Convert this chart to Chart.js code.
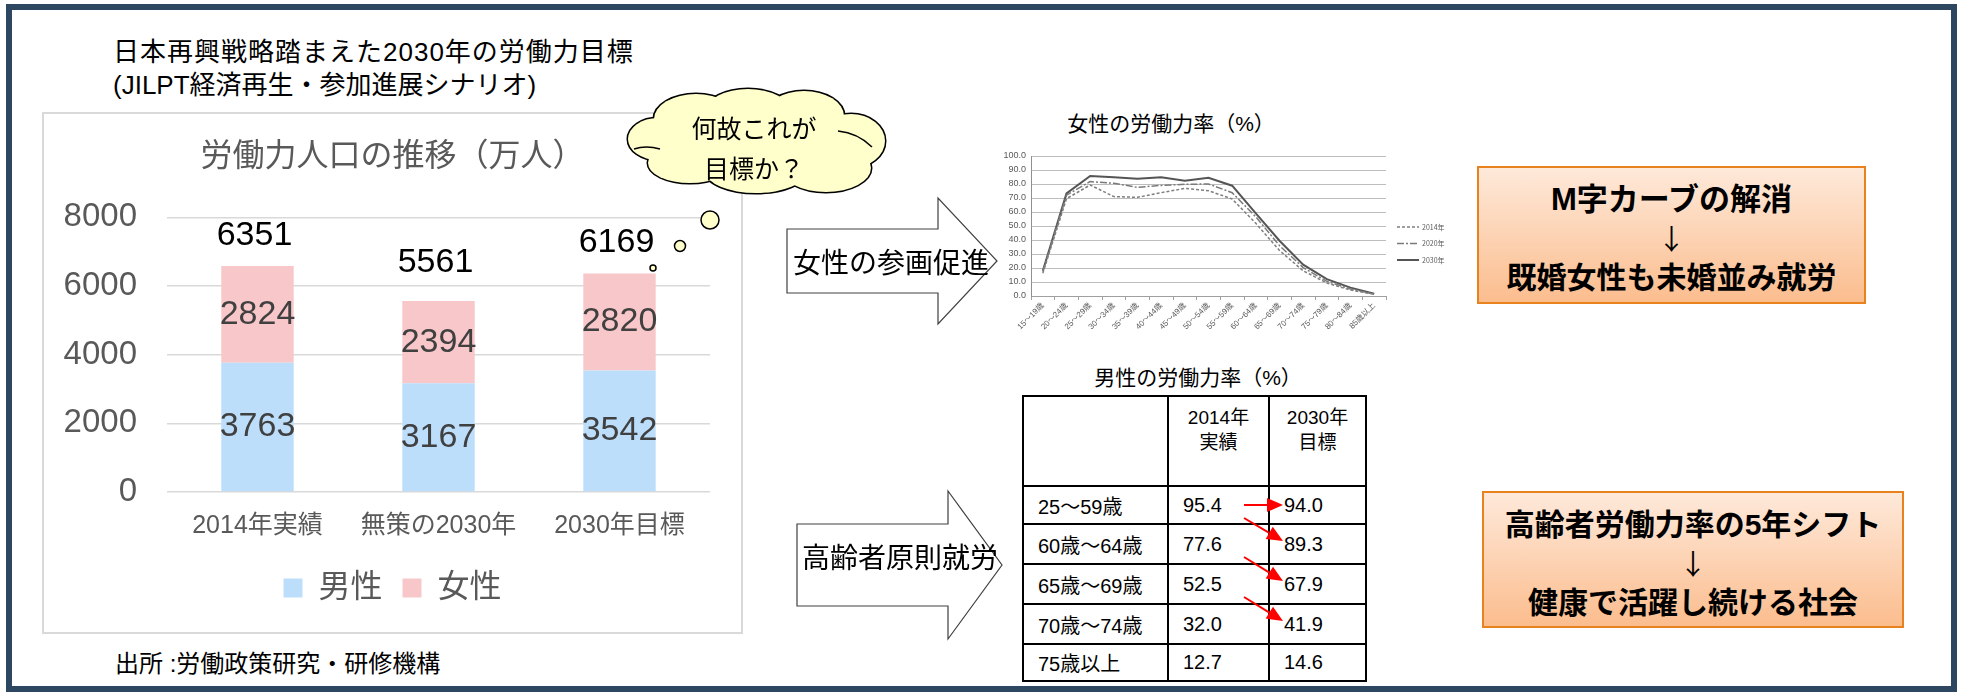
<!DOCTYPE html>
<html lang="ja">
<head>
<meta charset="utf-8">
<title>日本再興戦略踏まえた2030年の労働力目標</title>
<script src="https://cdn.jsdelivr.net/npm/chart.js@4.4.1/dist/chart.umd.min.js"></script>
<style>
  html, body { margin: 0; padding: 0; background: #fff; }
  body { width: 1964px; height: 694px; position: relative; overflow: hidden;
         font-family: "Liberation Sans", "Noto Sans CJK JP", sans-serif; color: #000; }
  .abs { position: absolute; }
  #frame { left: 6px; top: 4px; width: 1951px; height: 688px; box-sizing: border-box; border: 6px solid #2d4761; }
  .head { left: 113px; font-size: 26px; line-height: 30px; white-space: nowrap; }
  #chartBox { left: 42px; top: 112px; width: 701px; height: 522px; box-sizing: border-box; border: 2px solid #d9d9d9; }
  #barChart { left: 43px; top: 113px; }
  #lineChart { left: 990px; top: 105px; }
  .ctitle { font-size: 21px; line-height: 24px; white-space: nowrap; transform: translateX(-50%); }
  #maleTable { left: 1022px; top: 395px; border-collapse: collapse; font-size: 20px; }
  #maleTable td { border: 2.5px solid #000; padding: 0 0 0 14px; vertical-align: middle; white-space: nowrap; }
  #maleTable thead td { text-align: center; vertical-align: top; padding: 8px 0 0 0; font-size: 19px; line-height: 25px; }
  .obox { box-sizing: border-box; border: 2.5px solid #e8821e; background: linear-gradient(#fee9da, #fbbd8e);
          text-align: center; font-weight: bold; font-size: 30px; line-height: 38px; padding-top: 13px; white-space: nowrap; }
  .obox .down { font-family: "Noto Sans CJK JP", sans-serif; font-weight: normal; font-size: 28px; }
  #deco { left: 0; top: 0; pointer-events: none; }
</style>
</head>
<body>
<div id="frame" class="abs"></div>

<div class="abs head" style="top:37px; letter-spacing:1px;">日本再興戦略踏まえた2030年の労働力目標</div>
<div class="abs head" style="top:70px;">(JILPT経済再生・参加進展シナリオ)</div>

<div id="chartBox" class="abs"></div>
<canvas id="barChart" class="abs" width="699" height="520"></canvas>

<div class="abs" style="left:115px; top:648px; font-size:24px; line-height:32px;">出所 :労働政策研究・研修機構</div>

<div class="abs ctitle" style="left:1171px; top:112px;">女性の労働力率（%）</div>
<canvas id="lineChart" class="abs" width="470" height="240"></canvas>

<div class="abs ctitle" style="left:1198px; top:366px;">男性の労働力率（%）</div>
<table id="maleTable" class="abs">
  <colgroup><col style="width:145px"><col style="width:101px"><col style="width:97px"></colgroup>
  <thead><tr style="height:90px"><td></td><td>2014年<br>実績</td><td>2030年<br>目標</td></tr></thead>
  <tbody></tbody>
</table>

<div class="abs obox" style="left:1477px; top:166px; width:389px; height:138px;">
  <span style="font-size:31px">M字カーブの解消</span><br><span class="down">↓</span><br>既婚女性も未婚並み就労
</div>
<div class="abs obox" style="left:1482px; top:491px; width:422px; height:137px;">
  高齢者労働力率の5年シフト<br><span class="down">↓</span><br>健康で活躍し続ける社会
</div>

<svg id="deco" class="abs" width="1964" height="694" xmlns="http://www.w3.org/2000/svg">
  <!-- thought cloud -->
  <g transform="translate(626,89)">
    <g fill="#ffffcc" stroke="#000" stroke-width="3">
      <ellipse cx="32" cy="50" rx="30" ry="21"/>
      <ellipse cx="70" cy="30" rx="42" ry="25"/>
      <ellipse cx="122" cy="22" rx="42" ry="22"/>
      <ellipse cx="178" cy="27" rx="40" ry="25"/>
      <ellipse cx="225" cy="52" rx="34" ry="27"/>
      <ellipse cx="200" cy="79" rx="45" ry="24"/>
      <ellipse cx="130" cy="83" rx="50" ry="21"/>
      <ellipse cx="64" cy="74" rx="42" ry="20"/>
    </g>
    <g fill="#ffffcc">
      <ellipse cx="32" cy="50" rx="30" ry="21"/>
      <ellipse cx="70" cy="30" rx="42" ry="25"/>
      <ellipse cx="122" cy="22" rx="42" ry="22"/>
      <ellipse cx="178" cy="27" rx="40" ry="25"/>
      <ellipse cx="225" cy="52" rx="34" ry="27"/>
      <ellipse cx="200" cy="79" rx="45" ry="24"/>
      <ellipse cx="130" cy="83" rx="50" ry="21"/>
      <ellipse cx="64" cy="74" rx="42" ry="20"/>
      <ellipse cx="128" cy="53" rx="100" ry="37"/>
    </g>
    <g fill="none" stroke="#000" stroke-width="1.5">
      <path d="M8 60 Q20 56 34 60"/>
      <path d="M212 42 Q232 44 246 58"/>
    </g>
    <g font-family="Noto Sans CJK JP, sans-serif" font-size="25" text-anchor="middle" fill="#000">
      <text x="128" y="49">何故これが</text>
      <text x="128" y="89">目標か？</text>
    </g>
  </g>
  <g fill="#ffffcc" stroke="#000" stroke-width="1.5">
    <circle cx="710" cy="220" r="9"/>
    <circle cx="680" cy="246" r="5.5"/>
    <circle cx="653" cy="268" r="3"/>
  </g>

  <!-- block arrows -->
  <g fill="#fff" stroke="#404040" stroke-width="1.2">
    <polygon points="787,229 938,229 938,198 997,261 938,324 938,293 787,293"/>
    <polygon points="797,524 948,524 948,491 1002,565 948,639 948,606 797,606"/>
  </g>
  <g font-family="Noto Sans CJK JP, sans-serif" font-size="28" fill="#000">
    <text x="793" y="273">女性の参画促進</text>
    <text x="802" y="568">高齢者原則就労</text>
  </g>
  <g id="shiftArrows"></g>
</svg>

<script>
// 労働力人口の推移（万人）
const categories = ['2014年実績', '無策の2030年', '2030年目標'];
const maleWorkers = [3763, 3167, 3542];
const femaleWorkers = [2824, 2394, 2820];
const totals = [6351, 5561, 6169];

// 女性の労働力率（%）
const ageGroups = ['15～19歳', '20～24歳', '25～29歳', '30～34歳', '35～39歳', '40～44歳', '45～49歳',
  '50～54歳', '55～59歳', '60～64歳', '65～69歳', '70～74歳', '75～79歳', '80～84歳', '85歳以上'];
const female2014 = [16.3, 69.5, 79.3, 71.0, 70.5, 73.8, 76.9, 75.2, 69.3, 51.9, 32.5, 18.0, 9.3, 4.2, 1.2];
const female2020 = [17.5, 72.0, 81.7, 80.5, 77.6, 79.0, 79.8, 80.0, 73.8, 56.5, 36.0, 20.3, 10.5, 5.0, 1.4];
const female2030 = [18.0, 73.3, 85.7, 84.8, 83.8, 84.8, 82.4, 84.5, 78.8, 59.0, 39.5, 22.4, 12.0, 6.0, 1.6];

// 男性の労働力率（%）
const maleAgeGroups = ['25～59歳', '60歳～64歳', '65歳～69歳', '70歳～74歳', '75歳以上'];
const male2014 = ['95.4', '77.6', '52.5', '32.0', '12.7'];
const male2030 = ['94.0', '89.3', '67.9', '41.9', '14.6'];

Chart.defaults.font.family = '"Liberation Sans", "Noto Sans CJK JP", sans-serif';
Chart.defaults.color = '#595959';

const barLabels = {
  id: 'barLabels',
  afterDatasetsDraw(chart) {
    const ctx = chart.ctx;
    ctx.save();
    ctx.textAlign = 'center';
    ctx.textBaseline = 'middle';
    ctx.font = '34px "Liberation Sans", "Noto Sans CJK JP", sans-serif';
    ctx.fillStyle = '#404040';
    chart.data.datasets.forEach((ds, i) => {
      chart.getDatasetMeta(i).data.forEach((bar, j) => {
        ctx.fillText(ds.data[j], bar.x, (bar.y + bar.base) / 2);
      });
    });
    ctx.fillStyle = '#000';
    const y = chart.scales.y;
    chart.getDatasetMeta(0).data.forEach((bar, j) => {
      ctx.fillText(totals[j], bar.x - 3, y.getPixelForValue(totals[j]) - 38);
    });
    ctx.restore();
  }
};

new Chart(document.getElementById('barChart'), {
  type: 'bar',
  data: {
    labels: categories,
    datasets: [
      { label: '男性', data: maleWorkers, backgroundColor: '#bcdefb', barPercentage: 0.8, categoryPercentage: 0.5 },
      { label: '女性', data: femaleWorkers, backgroundColor: '#f8c7c9', barPercentage: 0.8, categoryPercentage: 0.5 }
    ]
  },
  options: {
    responsive: false,
    animation: false,
    layout: { padding: { bottom: 19 } },
    plugins: {
      title: { display: true, text: '労働力人口の推移（万人）', color: '#595959',
               font: { size: 32, weight: 'normal' }, padding: { top: 25, bottom: 41 } },
      legend: { position: 'bottom',
                labels: { color: '#595959', font: { size: 32 }, boxWidth: 19, boxHeight: 19, padding: 20 } },
      tooltip: { enabled: false }
    },
    scales: {
      x: { stacked: true, grid: { display: false }, border: { display: false },
           ticks: { font: { size: 25 }, color: '#595959', padding: 11 },
           afterFit(s) { s.height = 60; } },
      y: { stacked: true, min: 0, max: 8000,
           ticks: { stepSize: 2000, font: { size: 33 }, color: '#595959', padding: 30, callback: v => String(v) },
           grid: { color: '#d9d9d9', lineWidth: 1.5, drawTicks: false }, border: { display: false },
           afterFit(s) { s.width = 124; } },
      yRight: { type: 'linear', position: 'right', grid: { display: false }, border: { display: false },
                ticks: { display: false }, afterFit(s) { s.width = 32; } }
    }
  },
  plugins: [barLabels]
});

const lineLegend = {
  id: 'lineLegend',
  afterDraw(chart) {
    const { ctx, chartArea } = chart;
    const x0 = chartArea.right + 11;
    ctx.save();
    ctx.font = '7px "Noto Sans CJK JP", sans-serif';
    ctx.fillStyle = '#595959';
    ctx.textBaseline = 'middle';
    chart.data.datasets.forEach((ds, i) => {
      const y = chartArea.top + 71 + i * 16.5;
      ctx.strokeStyle = ds.borderColor;
      ctx.lineWidth = ds.borderWidth;
      ctx.setLineDash(ds.borderDash || []);
      ctx.beginPath();
      ctx.moveTo(x0, y);
      ctx.lineTo(x0 + 22, y);
      ctx.stroke();
      ctx.setLineDash([]);
      ctx.fillText(ds.label, x0 + 25, y);
    });
    ctx.restore();
  }
};

new Chart(document.getElementById('lineChart'), {
  type: 'line',
  data: {
    labels: ageGroups,
    datasets: [
      { label: '2014年', data: female2014, borderColor: '#7f7f7f', borderWidth: 1.5, borderDash: [3, 2], pointRadius: 0 },
      { label: '2020年', data: female2020, borderColor: '#7a7a7a', borderWidth: 1.5, borderDash: [7, 2, 2, 2], pointRadius: 0 },
      { label: '2030年', data: female2030, borderColor: '#555555', borderWidth: 2, pointRadius: 0 }
    ]
  },
  options: {
    responsive: false,
    animation: false,
    layout: { padding: { top: 51, right: 74 } },
    plugins: { legend: { display: false }, title: { display: false }, tooltip: { enabled: false } },
    scales: {
      x: { offset: true,
           grid: { drawOnChartArea: false, drawTicks: true, tickLength: 4, offset: true, color: '#a0a0a0' },
           border: { color: '#a0a0a0' },
           ticks: { font: { size: 8 }, color: '#595959', minRotation: 45, maxRotation: 45, autoSkip: false, padding: 1 },
           afterFit(s) { s.height = 49; } },
      y: { min: 0, max: 100,
           ticks: { stepSize: 10, font: { size: 9 }, color: '#595959', padding: 5, callback: v => v.toFixed(1) },
           grid: { color: '#bdbdbd', drawTicks: false }, border: { color: '#909090' },
           afterFit(s) { s.width = 41; } }
    }
  },
  plugins: [lineLegend]
});

// male table
const tbody = document.querySelector('#maleTable tbody');
const rowHeights = [38, 40, 40, 40, 37];
maleAgeGroups.forEach((g, i) => {
  const tr = document.createElement('tr');
  tr.style.height = rowHeights[i] + 'px';
  [g, male2014[i], male2030[i]].forEach(t => {
    const td = document.createElement('td');
    td.textContent = t;
    tr.appendChild(td);
  });
  tbody.appendChild(tr);
});

// red "5-year shift" arrows between the two columns
const arrowsG = document.getElementById('shiftArrows');
const rows = tbody.querySelectorAll('tr');
const mid = r => { const b = r.getBoundingClientRect(); return (b.top + b.bottom) / 2; };
const svgNS = 'http://www.w3.org/2000/svg';
for (let i = 0; i < 4; i++) {
  const x1 = rows[i].cells[1].getBoundingClientRect().left + 76;
  const x2 = rows[i].cells[2].getBoundingClientRect().left + 14;
  const y2 = i === 0 ? mid(rows[0]) : mid(rows[i]) - 3;
  const y1 = i === 0 ? y2 : mid(rows[i - 1]) + 13;
  const ang = Math.atan2(y2 - y1, x2 - x1);
  const hl = 16, hw = 7;
  const bx = x2 - hl * Math.cos(ang), by = y2 - hl * Math.sin(ang);
  const line = document.createElementNS(svgNS, 'line');
  line.setAttribute('x1', x1); line.setAttribute('y1', y1);
  line.setAttribute('x2', bx); line.setAttribute('y2', by);
  line.setAttribute('stroke', '#ff0000'); line.setAttribute('stroke-width', '2');
  arrowsG.appendChild(line);
  const px = -Math.sin(ang), py = Math.cos(ang);
  const head = document.createElementNS(svgNS, 'polygon');
  head.setAttribute('points', [[x2, y2], [bx + px * hw, by + py * hw], [bx - px * hw, by - py * hw]].map(p => p.join(',')).join(' '));
  head.setAttribute('fill', '#ff0000');
  arrowsG.appendChild(head);
}
</script>
</body>
</html>
